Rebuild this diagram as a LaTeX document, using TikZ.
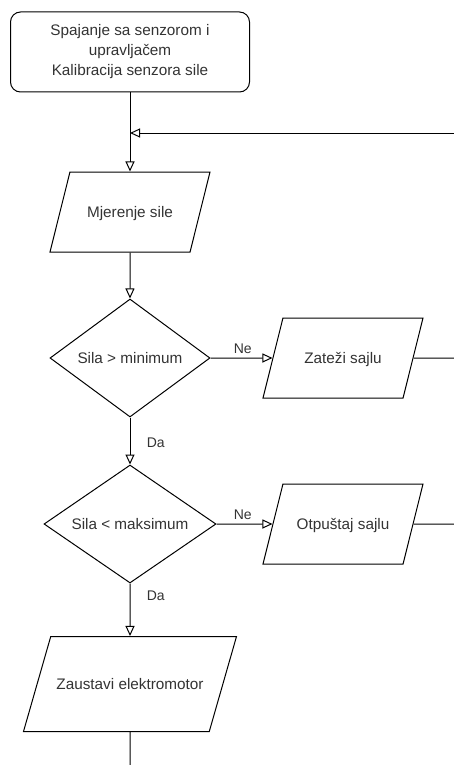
\documentclass[tikz,border=0pt]{standalone}
\usepackage{fontspec}
\setmainfont{Liberation Sans}
\usetikzlibrary{shapes.geometric,arrows.meta}

\begin{document}
\begin{tikzpicture}[
    x=1pt, y=-1pt,
    line width=1pt,
    every node/.style={font=\fontsize{15.3}{20}\selectfont, text=black!80},
    startbox/.style={draw, rectangle, rounded corners=10pt, minimum width=239pt, minimum height=80pt, align=center, inner sep=0pt},
    iobox/.style={draw, trapezium, trapezium left angle=76, trapezium right angle=104, trapezium stretches body, minimum width=160pt, inner sep=0pt, text height=45.4pt, text depth=34.6pt},
    decision/.style={draw, diamond, aspect=1.46, inner sep=0pt, minimum width=160pt, minimum height=118pt},
    arr/.style={-{Triangle[open, length=10pt, width=9pt]}},
    lbl/.style={font=\fontsize{14}{16}\selectfont}
  ]
  \useasboundingbox (0,0) rectangle (454,765);

  \node[startbox] (start) at (130,52) {Spajanje sa senzorom i\\upravljačem\\Kalibracija senzora sile};
  \node[iobox] (meas) at (130,212) {Mjerenje sile};
  \node[decision] (min) at (130,358) {Sila > minimum};
  \node[iobox] (tight) at (343,358) {Zateži sajlu};
  \node[decision, minimum width=172pt] (max) at (130,524) {Sila < maksimum};
  \node[iobox] (loose) at (343,524) {Otpuštaj sajlu};
  \node[iobox, trapezium left angle=74, trapezium right angle=106, minimum width=213pt, text height=52.9pt, text depth=42.1pt] (stop) at (130,684) {Zaustavi elektromotor};

  \coordinate (back) at (454,133);
  \coordinate (join) at (130,133);
  \coordinate (out1) at (454,358);
  \coordinate (out2) at (454,524);
  \coordinate (tail) at (130,765);

  \draw[arr] (start) -- (meas);
  \draw[arr] (back) -- (join);
  \draw[arr] (meas) -- (min);
  \draw[arr] (min.east) -- node[lbl, above=1pt, pos=0.52] {Ne} (tight.west);
  \draw (tight.east) -- (out1);
  \draw[arr] (min.south) -- node[lbl, right=13pt, pos=0.54] {Da} (max.north);
  \draw[arr] (max.east) -- node[lbl, above=1pt, pos=0.47] {Ne} (loose.west);
  \draw (loose.east) -- (out2);
  \draw[arr] (max.south) -- node[lbl, right=13pt, pos=0.24] {Da} (stop.north);
  \draw (stop.south) -- (tail);
\end{tikzpicture}
\end{document}
